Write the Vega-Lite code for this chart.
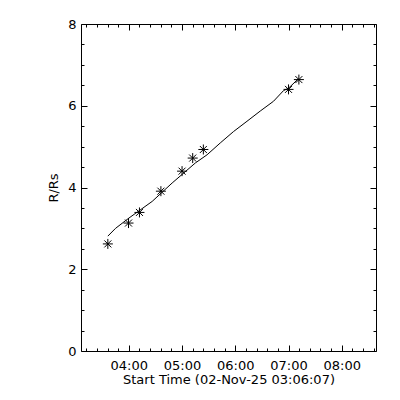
{
  "$schema": "https://vega.github.io/schema/vega-lite/v6.json",
  "width": 295,
  "height": 327,
  "autosize": "none",
  "padding": {"left": 81, "top": 24, "right": 24, "bottom": 49},
  "background": "white",
  "config": {
    "view": {"stroke": "black", "strokeWidth": 1},
    "axis": {
      "grid": false,
      "domain": false,
      "tickColor": "black",
      "tickWidth": 1,
      "labelColor": "black",
      "titleColor": "black",
      "labelFont": "DejaVu Sans",
      "titleFont": "DejaVu Sans",
      "labelFontSize": 13,
      "titleFontSize": 13,
      "titleFontWeight": "normal",
      "labelOverlap": false,
      "labelBound": false,
      "labelFlush": false
    }
  },
  "datasets": {
    "pts": [
      {"time": "2025-11-02T03:36:22", "r": 2.62},
      {"time": "2025-11-02T03:59:40", "r": 3.13},
      {"time": "2025-11-02T04:12:00", "r": 3.39},
      {"time": "2025-11-02T04:36:10", "r": 3.91},
      {"time": "2025-11-02T05:00:00", "r": 4.40},
      {"time": "2025-11-02T05:12:00", "r": 4.72},
      {"time": "2025-11-02T05:24:00", "r": 4.93},
      {"time": "2025-11-02T07:00:00", "r": 6.40},
      {"time": "2025-11-02T07:11:40", "r": 6.64}
    ],
    "fit": [
      {"time": "2025-11-02T03:36:22", "r": 2.81},
      {"time": "2025-11-02T03:45:00", "r": 3.00},
      {"time": "2025-11-02T04:00:00", "r": 3.25},
      {"time": "2025-11-02T04:26:20", "r": 3.66},
      {"time": "2025-11-02T04:48:50", "r": 4.11},
      {"time": "2025-11-02T05:15:00", "r": 4.60},
      {"time": "2025-11-02T05:28:10", "r": 4.80},
      {"time": "2025-11-02T05:43:05", "r": 5.09},
      {"time": "2025-11-02T05:58:05", "r": 5.37},
      {"time": "2025-11-02T06:13:10", "r": 5.62},
      {"time": "2025-11-02T06:28:05", "r": 5.87},
      {"time": "2025-11-02T06:43:05", "r": 6.11},
      {"time": "2025-11-02T06:54:20", "r": 6.37},
      {"time": "2025-11-02T07:00:00", "r": 6.43},
      {"time": "2025-11-02T07:11:10", "r": 6.66}
    ]
  },
  "layer": [
    {
      "data": {"name": "pts"},
      "mark": {
        "type": "point",
        "shape": "M-1,0L1,0M0,-1L0,1M-0.7,-0.7L0.7,0.7M-0.7,0.7L0.7,-0.7",
        "filled": false,
        "stroke": "black",
        "strokeWidth": 1,
        "size": 100,
        "opacity": 1
      },
      "encoding": {
        "x": {
          "field": "time",
          "type": "temporal",
          "scale": {"domain": [
            {"year": 2025, "month": 11, "date": 2, "hours": 3, "minutes": 6, "seconds": 7},
            {"year": 2025, "month": 11, "date": 2, "hours": 8, "minutes": 38, "seconds": 35}
          ]},
          "axis": {
            "orient": "bottom",
            "title": "Start Time (02-Nov-25 03:06:07)",
            "values": [
              {"year": 2025, "month": 11, "date": 2, "hours": 4},
              {"year": 2025, "month": 11, "date": 2, "hours": 5},
              {"year": 2025, "month": 11, "date": 2, "hours": 6},
              {"year": 2025, "month": 11, "date": 2, "hours": 7},
              {"year": 2025, "month": 11, "date": 2, "hours": 8}
            ],
            "format": "%H:%M",
            "offset": -6,
            "tickSize": 6,
            "labelPadding": 8,
            "titlePadding": 1
          }
        },
        "y": {
          "field": "r",
          "type": "quantitative",
          "scale": {"domain": [0, 8], "nice": false, "zero": false},
          "axis": {
            "orient": "left",
            "title": "R/Rs",
            "values": [0, 2, 4, 6, 8],
            "offset": -6,
            "tickSize": 6,
            "labelPadding": 5,
            "titlePadding": 7
          }
        }
      }
    },
    {
      "data": {"name": "fit"},
      "mark": {"type": "line", "color": "black", "strokeWidth": 1},
      "encoding": {
        "x": {
          "field": "time",
          "type": "temporal",
          "axis": {
            "orient": "top",
            "title": null,
            "labels": false,
            "values": [
              {"year": 2025, "month": 11, "date": 2, "hours": 4},
              {"year": 2025, "month": 11, "date": 2, "hours": 5},
              {"year": 2025, "month": 11, "date": 2, "hours": 6},
              {"year": 2025, "month": 11, "date": 2, "hours": 7},
              {"year": 2025, "month": 11, "date": 2, "hours": 8}
            ],
            "offset": -6,
            "tickSize": 6
          }
        },
        "y": {
          "field": "r",
          "type": "quantitative",
          "axis": {
            "orient": "right",
            "title": null,
            "labels": false,
            "values": [0, 2, 4, 6, 8],
            "offset": -6,
            "tickSize": 6
          }
        }
      }
    },
    {
      "data": {"name": "pts"},
      "mark": {"type": "point", "opacity": 0},
      "encoding": {
        "x": {
          "field": "time",
          "type": "temporal",
          "axis": {
            "orient": "bottom",
            "title": null,
            "labels": false,
            "values": [
              {"year": 2025, "month": 11, "date": 2, "hours": 3, "minutes": 12},
              {"year": 2025, "month": 11, "date": 2, "hours": 3, "minutes": 24},
              {"year": 2025, "month": 11, "date": 2, "hours": 3, "minutes": 36},
              {"year": 2025, "month": 11, "date": 2, "hours": 3, "minutes": 48},
              {"year": 2025, "month": 11, "date": 2, "hours": 4, "minutes": 12},
              {"year": 2025, "month": 11, "date": 2, "hours": 4, "minutes": 24},
              {"year": 2025, "month": 11, "date": 2, "hours": 4, "minutes": 36},
              {"year": 2025, "month": 11, "date": 2, "hours": 4, "minutes": 48},
              {"year": 2025, "month": 11, "date": 2, "hours": 5, "minutes": 12},
              {"year": 2025, "month": 11, "date": 2, "hours": 5, "minutes": 24},
              {"year": 2025, "month": 11, "date": 2, "hours": 5, "minutes": 36},
              {"year": 2025, "month": 11, "date": 2, "hours": 5, "minutes": 48},
              {"year": 2025, "month": 11, "date": 2, "hours": 6, "minutes": 12},
              {"year": 2025, "month": 11, "date": 2, "hours": 6, "minutes": 24},
              {"year": 2025, "month": 11, "date": 2, "hours": 6, "minutes": 36},
              {"year": 2025, "month": 11, "date": 2, "hours": 6, "minutes": 48},
              {"year": 2025, "month": 11, "date": 2, "hours": 7, "minutes": 12},
              {"year": 2025, "month": 11, "date": 2, "hours": 7, "minutes": 24},
              {"year": 2025, "month": 11, "date": 2, "hours": 7, "minutes": 36},
              {"year": 2025, "month": 11, "date": 2, "hours": 7, "minutes": 48},
              {"year": 2025, "month": 11, "date": 2, "hours": 8, "minutes": 12},
              {"year": 2025, "month": 11, "date": 2, "hours": 8, "minutes": 24},
              {"year": 2025, "month": 11, "date": 2, "hours": 8, "minutes": 36}
            ],
            "offset": -3,
            "tickSize": 3
          }
        },
        "y": {
          "field": "r",
          "type": "quantitative",
          "axis": {
            "orient": "left",
            "title": null,
            "labels": false,
            "values": [1, 3, 5, 7, 0.5, 1.5, 2.5, 3.5, 4.5, 5.5, 6.5, 7.5],
            "offset": -3,
            "tickSize": 3
          }
        }
      }
    },
    {
      "data": {"name": "pts"},
      "mark": {"type": "point", "opacity": 0},
      "encoding": {
        "x": {
          "field": "time",
          "type": "temporal",
          "axis": {
            "orient": "top",
            "title": null,
            "labels": false,
            "values": [
              {"year": 2025, "month": 11, "date": 2, "hours": 3, "minutes": 12},
              {"year": 2025, "month": 11, "date": 2, "hours": 3, "minutes": 24},
              {"year": 2025, "month": 11, "date": 2, "hours": 3, "minutes": 36},
              {"year": 2025, "month": 11, "date": 2, "hours": 3, "minutes": 48},
              {"year": 2025, "month": 11, "date": 2, "hours": 4, "minutes": 12},
              {"year": 2025, "month": 11, "date": 2, "hours": 4, "minutes": 24},
              {"year": 2025, "month": 11, "date": 2, "hours": 4, "minutes": 36},
              {"year": 2025, "month": 11, "date": 2, "hours": 4, "minutes": 48},
              {"year": 2025, "month": 11, "date": 2, "hours": 5, "minutes": 12},
              {"year": 2025, "month": 11, "date": 2, "hours": 5, "minutes": 24},
              {"year": 2025, "month": 11, "date": 2, "hours": 5, "minutes": 36},
              {"year": 2025, "month": 11, "date": 2, "hours": 5, "minutes": 48},
              {"year": 2025, "month": 11, "date": 2, "hours": 6, "minutes": 12},
              {"year": 2025, "month": 11, "date": 2, "hours": 6, "minutes": 24},
              {"year": 2025, "month": 11, "date": 2, "hours": 6, "minutes": 36},
              {"year": 2025, "month": 11, "date": 2, "hours": 6, "minutes": 48},
              {"year": 2025, "month": 11, "date": 2, "hours": 7, "minutes": 12},
              {"year": 2025, "month": 11, "date": 2, "hours": 7, "minutes": 24},
              {"year": 2025, "month": 11, "date": 2, "hours": 7, "minutes": 36},
              {"year": 2025, "month": 11, "date": 2, "hours": 7, "minutes": 48},
              {"year": 2025, "month": 11, "date": 2, "hours": 8, "minutes": 12},
              {"year": 2025, "month": 11, "date": 2, "hours": 8, "minutes": 24},
              {"year": 2025, "month": 11, "date": 2, "hours": 8, "minutes": 36}
            ],
            "offset": -3,
            "tickSize": 3
          }
        },
        "y": {
          "field": "r",
          "type": "quantitative",
          "axis": {
            "orient": "right",
            "title": null,
            "labels": false,
            "values": [1, 3, 5, 7, 0.5, 1.5, 2.5, 3.5, 4.5, 5.5, 6.5, 7.5],
            "offset": -3,
            "tickSize": 3
          }
        }
      }
    }
  ],
  "resolve": {"axis": {"x": "independent", "y": "independent"}}
}
